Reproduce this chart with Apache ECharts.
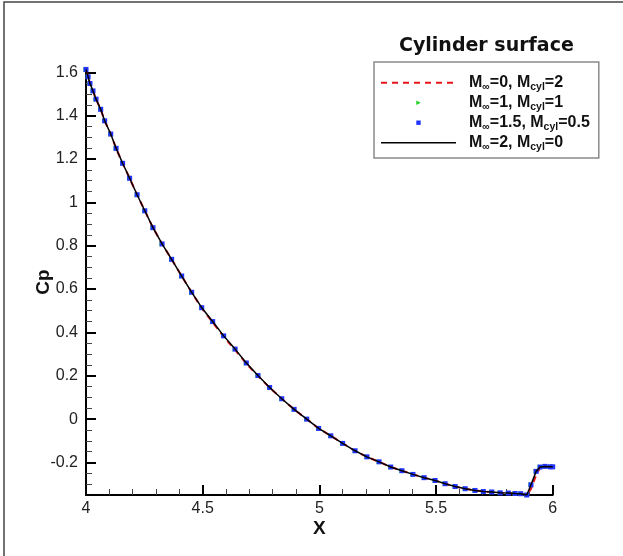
<!DOCTYPE html>
<html>
<head>
<meta charset="utf-8">
<style>
html, body { margin: 0; padding: 0; background: #fff; }
#chart { width: 623px; height: 556px; }
</style>
<script src="https://cdn.jsdelivr.net/npm/echarts@6/dist/echarts.min.js"></script>
</head>
<body>
<div id="chart"></div>
<script>
// Surface x-coordinate of each sampled cell along the cylinder
const xSurface = [4.000, 4.009, 4.017, 4.030, 4.043, 4.063, 4.080, 4.106, 4.129, 4.157,
  4.187, 4.219, 4.252, 4.287, 4.326, 4.367, 4.410, 4.453, 4.496, 4.543,
  4.590, 4.639, 4.687, 4.737, 4.787, 4.839, 4.892, 4.946, 4.997, 5.049,
  5.100, 5.153, 5.204, 5.256, 5.306, 5.354, 5.401, 5.449, 5.496, 5.539,
  5.582, 5.625, 5.667, 5.703, 5.739, 5.775, 5.810, 5.839, 5.863, 5.889,
  5.907, 5.929, 5.946, 5.967, 5.989, 6.000];

// Pressure coefficient for each frame (freestream Mach / cylinder Mach)
const cpM0 = [1.613, 1.579, 1.548, 1.514, 1.476, 1.429, 1.376, 1.315, 1.249, 1.180,
  1.111, 1.035, 0.961, 0.883, 0.808, 0.737, 0.660, 0.585, 0.511, 0.446,
  0.380, 0.319, 0.256, 0.199, 0.145, 0.094, 0.045, 0.000, -0.043, -0.077,
  -0.112, -0.146, -0.174, -0.197, -0.221, -0.238, -0.255, -0.270, -0.283, -0.298,
  -0.311, -0.321, -0.329, -0.334, -0.336, -0.340, -0.341, -0.343, -0.344, -0.350,
  -0.322, -0.258, -0.224, -0.218, -0.220, -0.220];
const cpM1 = [1.613, 1.579, 1.548, 1.514, 1.476, 1.429, 1.376, 1.315, 1.249, 1.180,
  1.111, 1.035, 0.961, 0.883, 0.808, 0.737, 0.660, 0.585, 0.514, 0.450,
  0.384, 0.323, 0.259, 0.201, 0.146, 0.094, 0.045, 0.000, -0.043, -0.077,
  -0.112, -0.146, -0.174, -0.197, -0.221, -0.238, -0.255, -0.270, -0.283, -0.298,
  -0.311, -0.321, -0.329, -0.334, -0.336, -0.340, -0.341, -0.343, -0.344, -0.350,
  -0.303, -0.241, -0.221, -0.218, -0.220, -0.220];
const cpM15 = [1.613, 1.579, 1.548, 1.514, 1.476, 1.429, 1.376, 1.315, 1.249, 1.180,
  1.111, 1.035, 0.961, 0.883, 0.808, 0.737, 0.660, 0.585, 0.514, 0.450,
  0.384, 0.323, 0.259, 0.201, 0.146, 0.094, 0.045, 0.000, -0.043, -0.077,
  -0.112, -0.146, -0.174, -0.197, -0.221, -0.238, -0.255, -0.270, -0.283, -0.298,
  -0.311, -0.321, -0.329, -0.334, -0.336, -0.340, -0.341, -0.343, -0.344, -0.350,
  -0.303, -0.241, -0.221, -0.218, -0.220, -0.220];
const cpM2 = [1.613, 1.579, 1.548, 1.514, 1.476, 1.429, 1.376, 1.315, 1.249, 1.180,
  1.111, 1.035, 0.961, 0.883, 0.808, 0.737, 0.660, 0.585, 0.514, 0.450,
  0.384, 0.323, 0.259, 0.201, 0.146, 0.094, 0.045, 0.000, -0.043, -0.077,
  -0.112, -0.146, -0.174, -0.197, -0.221, -0.238, -0.255, -0.270, -0.283, -0.298,
  -0.311, -0.321, -0.329, -0.334, -0.336, -0.340, -0.341, -0.343, -0.344, -0.350,
  -0.303, -0.241, -0.221, -0.218, -0.220, -0.220];

const seriesNames = ['M∞=0, Mcyl=2', 'M∞=1, Mcyl=1', 'M∞=1.5, Mcyl=0.5', 'M∞=2, Mcyl=0'];
const titleText = 'Cylinder surface';

// Axis ticks
const yMajorTicks = [-0.2, 0, 0.2, 0.4, 0.6, 0.8, 1, 1.2, 1.4, 1.6];
const yMinorTicks = [-0.3, -0.25, -0.15, -0.1, -0.05, 0.05, 0.1, 0.15, 0.25, 0.3, 0.35,
  0.45, 0.5, 0.55, 0.65, 0.7, 0.75, 0.85, 0.9, 0.95, 1.05, 1.1, 1.15, 1.25, 1.3, 1.35,
  1.45, 1.5, 1.55];

const pairs = cp => xSurface.map((x, i) => [x, cp[i]]);

const FONT = 'Liberation Sans, Arial, sans-serif';
const chart = echarts.init(document.getElementById('chart'), null, { renderer: 'canvas' });

const option = {
  backgroundColor: '#fff',
  animation: false,
  title: {
    text: titleText,
    left: 399,
    top: 37,
    padding: 0,
    textStyle: { fontFamily: 'DejaVu Sans', fontWeight: 'bold', fontSize: 19, color: '#111' }
  },
  legend: {
    orient: 'vertical',
    left: 374,
    top: 62,
    padding: [10.7, 9, 5.3, 6],
    itemWidth: 75,
    itemHeight: 5.5,
    itemGap: 0,
    selectedMode: false,
    borderColor: '#8a8a8a',
    borderWidth: 1.5,
    backgroundColor: '#fff',
    data: [
      { name: seriesNames[0], itemStyle: { opacity: 0 }, lineStyle: { width: 2 } },
      { name: seriesNames[1], lineStyle: { opacity: 0 } },
      { name: seriesNames[2], lineStyle: { opacity: 0 } },
      { name: seriesNames[3], itemStyle: { opacity: 0 }, lineStyle: { width: 1.5 } }
    ],
    formatter: name => name.replace('∞', '{s|∞}').replace('cyl', '{s|cyl}'),
    textStyle: {
      fontFamily: FONT, fontWeight: 'bold', fontSize: 16, lineHeight: 20, color: '#111',
      padding: [0, 0, 0, 8],
      rich: {
        s: { fontFamily: FONT, fontWeight: 'bold', fontSize: 10.5, lineHeight: 10, verticalAlign: 'bottom', color: '#111' }
      }
    }
  },
  grid: { left: 86, top: 69, width: 466.7, height: 426, containLabel: false },
  xAxis: {
    type: 'value',
    min: 4, max: 6, interval: 0.5,
    name: 'X', nameLocation: 'middle', nameGap: 24, nameMoveOverlap: false,
    nameTextStyle: { fontFamily: FONT, fontWeight: 'bold', fontSize: 19, color: '#111' },
    axisLine: { show: true, onZero: false, lineStyle: { color: '#000', width: 2 } },
    axisTick: { show: true, inside: true, length: 10, lineStyle: { color: '#000', width: 2 } },
    minorTick: { show: true, splitNumber: 5, length: 6, lineStyle: { color: '#444', width: 1 } },
    axisLabel: { fontFamily: FONT, fontSize: 16, color: '#222', margin: 6, showMinLabel: true, showMaxLabel: true },
    splitLine: { show: false }
  },
  yAxis: [
    {
      type: 'value',
      min: -0.35, max: 1.615,
      position: 'left',
      name: 'Cp', nameLocation: 'middle', nameGap: 33, nameRotate: 90, nameMoveOverlap: false,
      nameTextStyle: { fontFamily: FONT, fontWeight: 'bold', fontSize: 19, color: '#111' },
      axisLine: { show: true, onZero: false, lineStyle: { color: '#000', width: 2 } },
      axisTick: { show: true, inside: true, length: 10, customValues: yMajorTicks, lineStyle: { color: '#000', width: 2 } },
      axisLabel: { fontFamily: FONT, fontSize: 16, color: '#222', margin: 8, customValues: yMajorTicks },
      splitLine: { show: false }
    },
    {
      type: 'value',
      min: -0.35, max: 1.615,
      position: 'left',
      axisLine: { show: false },
      axisTick: { show: true, inside: true, length: 6, customValues: yMinorTicks, lineStyle: { color: '#444', width: 1 } },
      axisLabel: { show: false },
      splitLine: { show: false }
    }
  ],
  series: [
    {
      name: seriesNames[0], type: 'line', yAxisIndex: 0,
      data: pairs(cpM0), symbol: 'none',
      lineStyle: { color: '#e8141b', width: 2, type: [6, 5] },
      itemStyle: { color: '#e8141b' },
      z: 2
    },
    {
      name: seriesNames[1], type: 'line', yAxisIndex: 0,
      data: pairs(cpM1), symbol: 'triangle', symbolRotate: -90, symbolSize: 5,
      showSymbol: true, showAllSymbol: true,
      lineStyle: { width: 0, opacity: 0 },
      itemStyle: { color: '#1fd01f' },
      z: 3
    },
    {
      name: seriesNames[2], type: 'line', yAxisIndex: 0,
      data: pairs(cpM15), symbol: 'rect', symbolSize: 5,
      showSymbol: true, showAllSymbol: true,
      lineStyle: { width: 0, opacity: 0 },
      itemStyle: { color: '#2233ff' },
      z: 4
    },
    {
      name: seriesNames[3], type: 'line', yAxisIndex: 0,
      data: pairs(cpM2), symbol: 'none',
      lineStyle: { color: '#000', width: 1.5 },
      itemStyle: { color: '#000' },
      z: 5
    }
  ],
  graphic: [
    { type: 'polyline', silent: true, shape: { points: [[4, 556], [4, 2], [623, 2]] },
      style: { stroke: '#444', lineWidth: 1.5, fill: null } }
  ]
};

chart.setOption(option);
</script>
</body>
</html>
